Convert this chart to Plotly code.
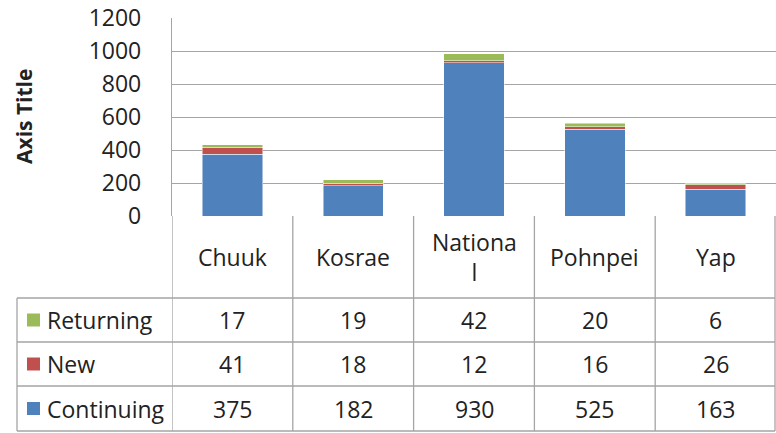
import plotly.graph_objects as go

categories = ["Chuuk", "Kosrae", "National", "Pohnpei", "Yap"]
header_labels = ["Chuuk", "Kosrae", "Nationa<br>l", "Pohnpei", "Yap"]
continuing = [375, 182, 930, 525, 163]
new = [41, 18, 12, 16, 26]
returning = [17, 19, 42, 20, 6]
series_names = ["Continuing", "New", "Returning"]
y_ticks = [0, 200, 400, 600, 800, 1000, 1200]

colors = {"Continuing": "#4F81BD", "New": "#C0504D", "Returning": "#9BBB59"}
series_values = {"Continuing": continuing, "New": new, "Returning": returning}

W, H = 776, 433
L, R, T, B = 172, 776, 18, 216  # plot area in pixels
FONT = "Open Sans"
LINE = "#A5A5A5"
TXT = "#222222"

def px_x(px):
    return (px - L) / (R - L)

def px_y(py):
    return (B - py) / (B - T)

fig = go.Figure()
xs = list(range(len(categories)))
for name in series_names:
    fig.add_trace(go.Bar(
        x=xs, y=series_values[name], name=name,
        marker=dict(color=colors[name], line=dict(color="rgba(255,255,255,0.6)", width=0.8)),
        width=0.5, showlegend=False,
    ))

shapes = []
annotations = []

header_bottom = 298
row_bounds = [298, 342, 386, 431]
table_left = 17

for yb in row_bounds:
    shapes.append(dict(type="line", xref="paper", yref="paper",
                       x0=px_x(table_left), x1=px_x(775), y0=px_y(yb), y1=px_y(yb),
                       line=dict(color=LINE, width=1.3)))
shapes.append(dict(type="line", xref="paper", yref="paper",
                   x0=px_x(table_left), x1=px_x(table_left),
                   y0=px_y(row_bounds[0]), y1=px_y(row_bounds[-1]),
                   line=dict(color=LINE, width=1.3)))
for i in range(len(categories) + 1):
    xv = i - 0.5
    if i == len(categories):
        xv = i - 0.5 - 1.0 / 120.8
    shapes.append(dict(type="line", xref="x", yref="paper",
                       x0=xv, x1=xv, y0=0, y1=px_y(row_bounds[-1]),
                       line=dict(color=LINE, width=1.3)))

for i, lab in enumerate(header_labels):
    annotations.append(dict(x=i, y=px_y((B + header_bottom) / 2), xref="x", yref="paper",
                            text=lab, showarrow=False, xanchor="center", yanchor="middle",
                            font=dict(family=FONT, size=23, color=TXT)))

row_order = ["Returning", "New", "Continuing"]
for r, name in enumerate(row_order):
    yc = (row_bounds[r] + row_bounds[r + 1]) / 2
    shapes.append(dict(type="rect", xref="paper", yref="paper",
                       x0=px_x(27), x1=px_x(40), y0=px_y(yc - 6.5), y1=px_y(yc + 6.5),
                       fillcolor=colors[name], line=dict(width=0)))
    annotations.append(dict(x=px_x(45), y=px_y(yc), xref="paper", yref="paper",
                            text=name, showarrow=False, xanchor="left", yanchor="middle",
                            font=dict(family=FONT, size=23, color=TXT)))
    for i, v in enumerate(series_values[name]):
        annotations.append(dict(x=i, y=px_y(yc), xref="x", yref="paper",
                                text=str(v), showarrow=False, xanchor="center", yanchor="middle",
                                font=dict(family=FONT, size=23, color=TXT)))

annotations.append(dict(x=px_x(24), y=px_y(117), xref="paper", yref="paper",
                        text="<b>Axis Title</b>", showarrow=False, textangle=-90,
                        xanchor="center", yanchor="middle",
                        font=dict(family=FONT, size=21, color=TXT)))

fig.update_layout(
    width=W, height=H,
    margin=dict(l=L, r=W - R, t=T, b=H - B, pad=0),
    barmode="stack",
    paper_bgcolor="white", plot_bgcolor="white",
    shapes=shapes, annotations=annotations,
    xaxis=dict(range=[-0.5, len(categories) - 0.5], showticklabels=False,
               showgrid=False, zeroline=False, showline=False, ticks=""),
    yaxis=dict(range=[0, 1200], tickvals=y_ticks, showgrid=True, gridcolor=LINE, gridwidth=1.3,
               showline=True, linecolor=LINE, linewidth=1.3, zeroline=False, ticks="",
               ticklabelstandoff=25,
               tickfont=dict(family=FONT, size=23, color=TXT)),
    font=dict(family=FONT),
)

fig.write_html("out.html", config={"displayModeBar": False},
               post_script="document.body.style.margin='0';document.body.style.overflow='hidden';")
